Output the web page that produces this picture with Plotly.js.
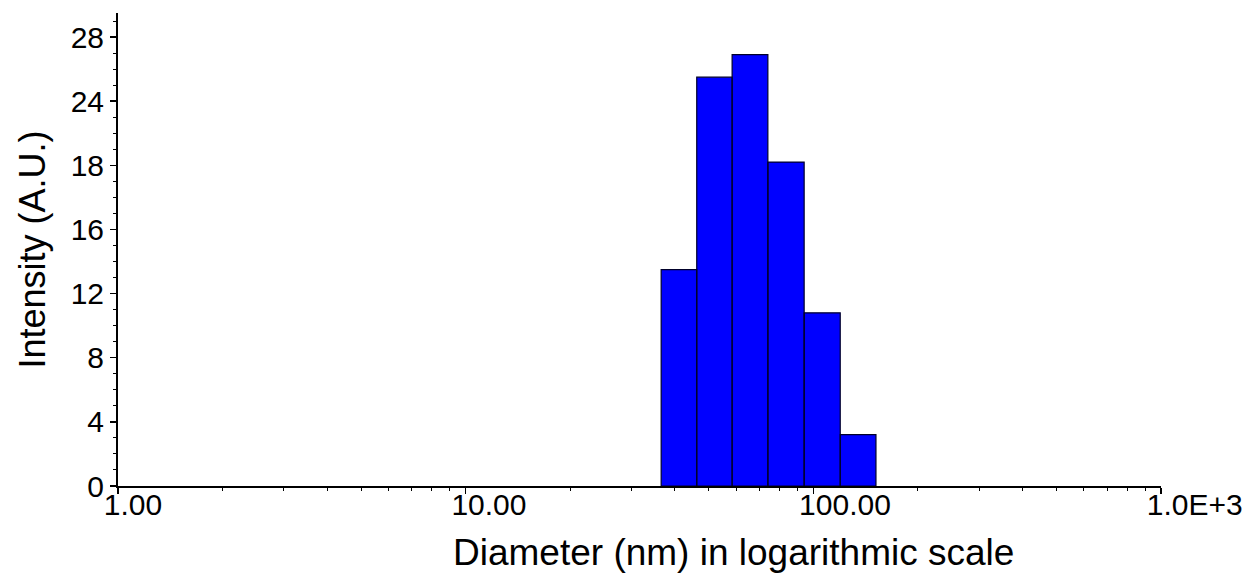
<!DOCTYPE html>
<html>
<head>
<meta charset="utf-8">
<script src="https://cdn.plot.ly/plotly-3.0.1.min.js"></script>
<style>html,body{margin:0;padding:0;background:#fff;}#chart{width:1251px;height:577px;}</style>
</head>
<body>
<div id="chart"></div>
<script>
// Bin edges (nm, log-spaced) and intensities
const binEdges = [36.5, 46.2, 58.4, 74.0, 94.1, 119.5, 151.4];
const intensity = [13.5, 25.5, 26.9, 20.2, 10.8, 3.2];

const xTickVals = [1, 10, 100, 1000];
const xTickText = ['1.00', '10.00', '100.00', '1.0E+3'];
const yTickVals = [0, 4, 8, 12, 16, 20, 24, 28];
const yTickText = ['0', '4', '8', '12', '16', '18', '24', '28'];

const xs = [], ys = [];
for (let i = 0; i < intensity.length; i++) {
  const a = binEdges[i], b = binEdges[i + 1], h = intensity[i];
  xs.push(a, a, b, b, a, null);
  ys.push(0, h, h, 0, 0, null);
}

const font = 'Liberation Sans, Arial, Helvetica, sans-serif';

const trace = {
  type: 'scatter', mode: 'lines', x: xs, y: ys,
  fill: 'toself', fillcolor: '#0000FF',
  line: {color: '#00002a', width: 1.2},
  hoverinfo: 'skip', showlegend: false
};

const layout = {
  width: 1251, height: 577,
  margin: {l: 118, r: 90, t: 13, b: 91},
  paper_bgcolor: '#ffffff', plot_bgcolor: '#ffffff',
  font: {family: font, color: '#000000'},
  showlegend: false,
  xaxis: {
    type: 'log', range: [0, 3],
    tickmode: 'array', tickvals: xTickVals, ticktext: xTickText,
    ticks: 'outside', ticklen: 6, tickwidth: 1.5, tickcolor: '#000',
    ticklabelposition: 'outside right', ticklabelshift: -16, ticklabelstandoff: -9,
    tickfont: {family: font, size: 30, color: '#000'},
    minor: {dtick: 'D1', ticks: 'outside', ticklen: 3, tickwidth: 1, tickcolor: '#000', showgrid: false},
    showline: true, linecolor: '#000', linewidth: 2,
    showgrid: false, zeroline: false
  },
  yaxis: {
    range: [0, 29.5],
    tickmode: 'array', tickvals: yTickVals, ticktext: yTickText,
    ticks: 'outside', ticklen: 6, tickwidth: 1.5, tickcolor: '#000',
    tickfont: {family: font, size: 30, color: '#000'},
    minor: {dtick: 1, ticks: 'outside', ticklen: 3, tickwidth: 1, tickcolor: '#000', showgrid: false},
    showline: true, linecolor: '#000', linewidth: 2,
    showgrid: false, zeroline: false,
    title: {text: 'Intensity (A.U.)', font: {family: font, size: 36, color: '#000'}, standoff: 14}
  },
  annotations: [{
    text: 'Diameter (nm) in logarithmic scale',
    xref: 'paper', yref: 'paper', x: 0.5, y: 0,
    xanchor: 'center', yanchor: 'top', xshift: 94, yshift: -44,
    showarrow: false,
    font: {family: font, size: 37, color: '#000'}
  }]
};

Plotly.newPlot('chart', [trace], layout, {displayModeBar: false, staticPlot: true});
</script>
</body>
</html>
